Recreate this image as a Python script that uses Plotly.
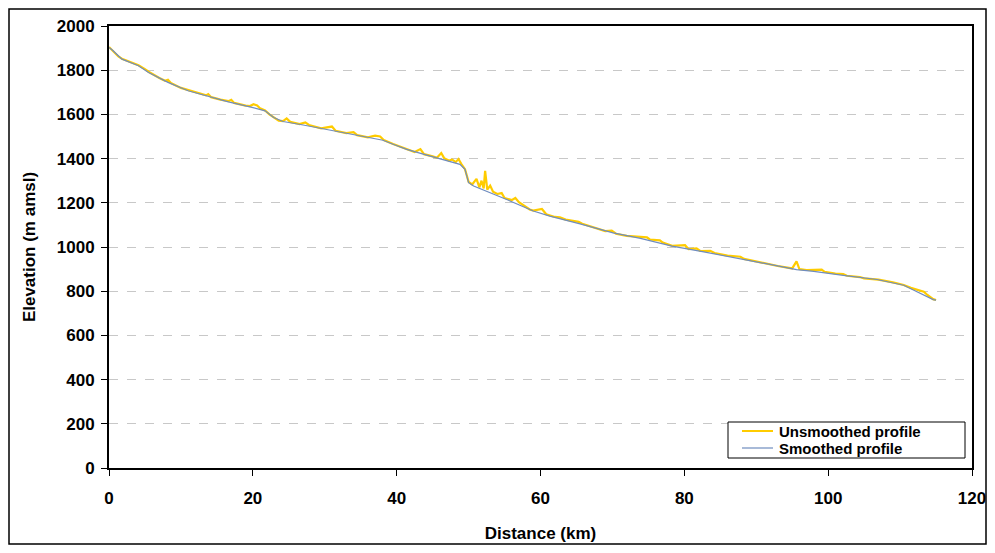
import plotly.graph_objects as go

# Smoothed profile (distance km, elevation m amsl)
dist_smoothed = [0, 0.5, 1.8, 4.1, 5.5, 8.2, 11.0, 13.8, 16.6, 19.6, 21.0, 21.7, 22.9, 24.2,
                 27.0, 31.2, 34.9, 38.1, 39.5, 41.4, 43.7, 46.0, 48.8, 49.5, 50.0, 50.7, 52.5,
                 55.3, 59.0, 61.3, 65.5, 70.1, 73.9, 78.3, 82.7, 87.3, 91.9, 95.6, 98.0, 102.1,
                 106.8, 110.5, 112.8, 114.6, 115.0]
elev_smoothed = [1903, 1890, 1850, 1820, 1790, 1745, 1707, 1681, 1657, 1634, 1622, 1616, 1586, 1568,
                 1552, 1525, 1503, 1483, 1465, 1442, 1420, 1400, 1374, 1351, 1291, 1276, 1253,
                 1215, 1163, 1140, 1105, 1064, 1039, 1004, 978, 951, 921, 898, 890, 872,
                 853, 827, 792, 762, 760]

# Unsmoothed profile
dist_unsmoothed = [0, 0.6, 1.3, 1.8, 3.0, 4.1, 5.0, 5.5, 7.0, 7.8, 8.2, 8.6, 10.0, 11.0, 12.5, 13.5,
                   13.8, 14.2, 15.5, 16.6, 17.0, 17.4, 19.0, 19.6, 20.1, 20.6, 21.0, 21.7, 22.3, 22.9,
                   23.6, 24.2, 24.7, 25.2, 26.5, 27.3, 27.8, 29.5, 31.0, 31.5, 33.0, 34.0, 34.5, 36.0,
                   37.0, 37.7, 38.2, 39.5, 40.2, 41.0, 41.4, 42.5, 43.3, 43.8, 45.0, 45.6, 46.2, 46.6,
                   47.3, 47.7, 48.2, 48.6, 49.0, 49.5, 50.0, 50.5, 51.1, 51.5, 51.8, 52.1, 52.3, 52.6,
                   53.0, 53.4, 54.0, 54.6, 55.0, 56.0, 56.5, 57.0, 58.5, 59.0, 60.2, 60.8, 62.0, 62.7,
                   63.5, 65.3, 65.8, 66.4, 67.0, 69.0, 69.9, 70.5, 72.0, 74.8, 75.2, 76.6, 77.0, 78.3,
                   80.1, 80.6, 81.7, 82.2, 83.6, 84.2, 86.0, 87.8, 88.3, 90.0, 91.9, 93.0, 95.0, 95.6,
                   96.0, 97.0, 99.1, 99.5, 101.0, 102.1, 102.6, 104.4, 105.0, 107.0, 109.0, 110.5,
                   111.5, 112.6, 113.3, 113.8, 114.6, 115.0]
elev_unsmoothed = [1905, 1885, 1862, 1852, 1835, 1822, 1805, 1793, 1765, 1752, 1757, 1742, 1720, 1710, 1695, 1686,
                   1692, 1678, 1667, 1660, 1666, 1652, 1640, 1638, 1646, 1640, 1628, 1618, 1600, 1588,
                   1572, 1570, 1582, 1566, 1556, 1564, 1552, 1537, 1545, 1526, 1515, 1520, 1506, 1496,
                   1504, 1500, 1484, 1466, 1458, 1448, 1445, 1430, 1443, 1420, 1410, 1404, 1425, 1402,
                   1390, 1396, 1384, 1398, 1375, 1352, 1295, 1283, 1308, 1270, 1300, 1265, 1345, 1260,
                   1278, 1250, 1240, 1244, 1222, 1212, 1222, 1203, 1170, 1165, 1172, 1148, 1136, 1134,
                   1124, 1114, 1105, 1099, 1090, 1072, 1074, 1060, 1050, 1044, 1034, 1030, 1020, 1005,
                   1008, 990, 994, 982, 983, 973, 961, 956, 946, 934, 922, 914, 903, 935,
                   900, 896, 898, 888, 880, 877, 870, 864, 858, 852, 840, 828,
                   815, 805, 798, 783, 764, 760]

x_ticks = [0, 20, 40, 60, 80, 100, 120]
y_ticks = [0, 200, 400, 600, 800, 1000, 1200, 1400, 1600, 1800, 2000]
series_names = ["Unsmoothed profile", "Smoothed profile"]
series_colors = ["#FFCC00", "#6F8CBF"]

FONT = "Liberation Sans, Arial, sans-serif"

# page is rendered with an 8px body margin: size figure to fit the window
W, H = 979, 537
L, R, T, B = 101, 15, 18, 77
pw, ph = W - L - R, H - T - B


def px(fx):
    return (fx - L) / pw


def py(fy):
    return (T + ph - fy) / ph


fig = go.Figure()
fig.add_trace(go.Scatter(x=dist_unsmoothed, y=elev_unsmoothed, mode="lines",
                         name=series_names[0],
                         line=dict(color=series_colors[0], width=2.2)))
fig.add_trace(go.Scatter(x=dist_smoothed, y=elev_smoothed, mode="lines",
                         name=series_names[1],
                         line=dict(color=series_colors[1], width=1.2)))

fig.update_layout(
    width=W, height=H,
    margin=dict(l=L, r=R, t=T, b=B, autoexpand=False),
    paper_bgcolor="white", plot_bgcolor="white",
    font=dict(family=FONT, size=17, color="black", weight="bold"),
    showlegend=False,
    xaxis=dict(range=[0, 120], tickvals=x_ticks, ticktext=[str(v) for v in x_ticks],
               showgrid=False, zeroline=False, showline=True, linecolor="black", linewidth=2,
               mirror=True, ticks="outside", ticklen=6, tickwidth=1, tickcolor="black",
               ticklabelstandoff=8, automargin=False,
               tickfont=dict(family=FONT, size=17, weight="bold"),
               title=dict(text="Distance (km)", standoff=20,
                          font=dict(family=FONT, size=17, weight="bold"))),
    yaxis=dict(range=[0, 2000], tickvals=y_ticks, ticktext=[str(v) for v in y_ticks],
               showgrid=True, gridcolor="#C8C8C8", griddash="dash", gridwidth=1,
               zeroline=False, showline=True, linecolor="black", linewidth=2,
               mirror=True, ticks="outside", ticklen=6, tickwidth=1, tickcolor="black",
               ticklabelstandoff=3, automargin=False,
               tickfont=dict(family=FONT, size=17, weight="bold"),
               title=dict(text="Elevation (m amsl)", standoff=17,
                          font=dict(family=FONT, size=17, weight="bold"))),
)

# outer frame around the whole chart
fig.add_shape(type="rect", xref="paper", yref="paper",
              x0=px(1), x1=px(978), y0=py(536), y1=py(1),
              line=dict(color="black", width=1.5), fillcolor="rgba(0,0,0,0)", layer="below")

# legend box (drawn by hand to match the compact Excel-style legend)
fig.add_shape(type="rect", xref="paper", yref="paper",
              x0=px(720), x1=px(957), y0=py(450), y1=py(414),
              line=dict(color="black", width=1), fillcolor="white", layer="above")
for i, (name, col) in enumerate(zip(series_names, series_colors)):
    yy = py(423 + 17 * i)
    fig.add_shape(type="line", xref="paper", yref="paper",
                  x0=px(734), x1=px(765), y0=yy, y1=yy,
                  line=dict(color=col, width=2 if i == 0 else 1.2), layer="above")
    fig.add_annotation(xref="paper", yref="paper", x=px(769), y=yy, text=name,
                       showarrow=False, xanchor="left", yanchor="middle",
                       font=dict(family=FONT, size=15, color="black", weight="bold"))

fig.write_html("out.html")
